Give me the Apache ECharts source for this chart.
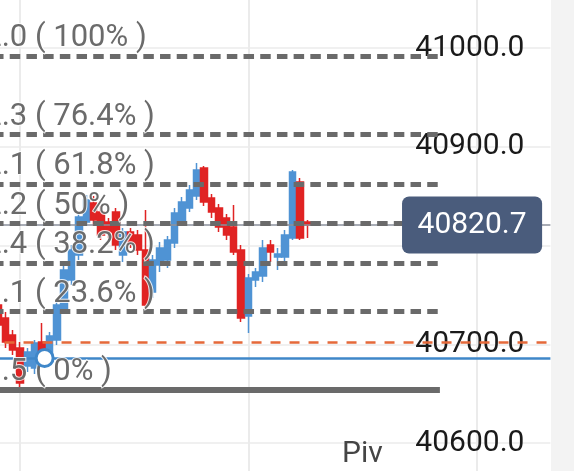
<!DOCTYPE html>
<html><head><meta charset="utf-8">
<script src="https://cdn.jsdelivr.net/npm/echarts@6/dist/echarts.min.js"></script>
<style>html,body{margin:0;padding:0;background:#fff}#c{width:574px;height:471px}</style>
</head><body><div id="c"></div>
<script>
// x categories (bars); only part of the range holds candles
const categoryCount = 88;
const categories = Array.from({length: categoryCount}, (_, i) => 'T' + (i + 1));
const firstCandleIndex = 11;
// candles: [open, close, low, high]
const candles = [
  [40746.8, 40732.7, 40729.6, 40749.9],
  [40739.7, 40719.5, 40714.4, 40744.8],
  [40726.6, 40702.3, 40696.2, 40732.7],
  [40709.4, 40694.2, 40689.1, 40714.4],
  [40696.2, 40660.8, 40653.5, 40702.3],
  [40678.0, 40692.2, 40671.9, 40696.2],
  [40675.9, 40701.3, 40669.9, 40704.3],
  [40702.3, 40692.2, 40687.1, 40721.5],
  [40687.1, 40708.4, 40682.0, 40712.4],
  [40704.3, 40739.7, 40699.2, 40744.8],
  [40734.7, 40775.2, 40730.6, 40783.3],
  [40765.1, 40795.4, 40760.0, 40800.5],
  [40790.4, 40828.9, 40785.3, 40833.9],
  [40823.8, 40846.1, 40819.7, 40851.1],
  [40843.0, 40825.8, 40819.7, 40850.1],
  [40833.9, 40810.6, 40805.6, 40840.0],
  [40823.8, 40813.7, 40807.6, 40827.8],
  [40833.9, 40800.5, 40795.4, 40838.0],
  [40790.4, 40813.7, 40783.3, 40817.7],
  [40813.7, 40802.5, 40797.5, 40817.7],
  [40810.6, 40795.4, 40790.4, 40815.7],
  [40795.4, 40739.7, 40732.7, 40835.9],
  [40752.9, 40785.3, 40746.8, 40790.4],
  [40780.3, 40797.5, 40773.2, 40803.5],
  [40785.3, 40805.6, 40777.2, 40809.6],
  [40802.5, 40832.9, 40797.5, 40838.0],
  [40823.8, 40844.1, 40819.7, 40849.1],
  [40838.0, 40856.2, 40833.9, 40861.3],
  [40850.1, 40876.5, 40846.1, 40883.5],
  [40878.5, 40844.1, 40840.0, 40880.5],
  [40848.1, 40833.9, 40827.8, 40852.2],
  [40838.0, 40818.7, 40813.7, 40842.0],
  [40827.8, 40810.6, 40805.6, 40831.9],
  [40818.7, 40793.4, 40790.4, 40841.0],
  [40795.4, 40726.6, 40722.5, 40800.5],
  [40728.6, 40767.1, 40711.4, 40771.1],
  [40765.1, 40773.2, 40758.0, 40777.2],
  [40769.1, 40797.5, 40763.0, 40805.6],
  [40800.5, 40793.4, 40783.3, 40805.6],
  [40788.4, 40791.4, 40775.2, 40797.5],
  [40788.4, 40810.6, 40783.3, 40815.7],
  [40807.6, 40874.4, 40805.6, 40876.5],
  [40864.3, 40807.6, 40805.6, 40868.4],
  [40823.8, 40820.7, 40807.6, 40825.8]
];
const lastPrice = 40820.7;
// Fibonacci retracement levels
const fibPrices = [40992.0, 40912.3, 40862.1, 40822.2, 40782.4, 40733.1, 40653.5];
const fibPercents = ['100%', '76.4%', '61.8%', '50%', '38.2%', '23.6%', '0%'];
const fibEndIndex = 72;
// other horizontal lines
const alertPrice = 40701.8;
const pivotPrice = 40686.1;
const pivotMarkIndex = 18;
const priceBoxIndex = 76;
const pivotText = 'Piv';
// y axis ticks
const yMin = 40500, yMax = 41100, yInterval = 100;

const FONT = 'Roboto';
const candleData = categories.map(() => ['-', '-', '-', '-']);
candles.forEach((c, i) => { candleData[firstCandleIndex + i] = c; });

const fibLines = fibPrices.map((p, i) => {
  const isBase = i === fibPrices.length - 1;
  return [
    {
      coord: [categories[0], p],
      lineStyle: isBase
        ? {color: '#6a6a6a', width: 6, type: 'solid'}
        : {color: '#6a6a6a', width: 5, type: [10.5, 6.2], cap: 'butt'},
      label: {
        show: true,
        position: 'insideStartTop',
        distance: [5, 2],
        formatter: p.toFixed(1) + ' ( ' + fibPercents[i] + ' )',
        color: '#6b6b6b',
        fontSize: 31,
        fontFamily: FONT,
        textBorderColor: 'rgba(255,255,255,0.85)',
        textBorderWidth: 2
      }
    },
    {coord: [categories[fibEndIndex], p]}
  ];
});

const chart = echarts.init(document.getElementById('c'), null, {renderer: 'canvas'});
chart.setOption({
  animation: false,
  backgroundColor: '#ffffff',
  grid: {left: -90.47, right: 23.6, top: -50.75, bottom: -70.75, containLabel: false, outerBoundsMode: 'none'},
  xAxis: {
    type: 'category',
    data: categories,
    boundaryGap: false,
    axisLine: {show: false}, axisTick: {show: false}, axisLabel: {show: false},
    splitLine: {show: true, interval: (i) => (i - 15) % 31 === 0, lineStyle: {color: '#ebebeb', width: 2}}
  },
  yAxis: {
    type: 'value',
    position: 'right',
    min: yMin, max: yMax, interval: yInterval,
    axisLine: {show: false}, axisTick: {show: false},
    axisLabel: {inside: true, margin: 26, formatter: (v) => v.toFixed(1), fontSize: 30, color: '#1a1a1a', fontFamily: FONT},
    splitLine: {show: true, lineStyle: {color: '#ebebeb', width: 1.5}}
  },
  graphic: [
    {type: 'rect', right: 0, top: 0, z: -10, shape: {width: 23, height: 471}, style: {fill: '#f3f3f3'}},
    {type: 'text', left: 342, top: 439, z: 10, style: {text: pivotText, fontSize: 30, fontFamily: FONT, fill: '#454545'}}
  ],
  series: [{
    type: 'candlestick',
    data: candleData,
    barWidth: 7,
    itemStyle: {color: '#4f93d4', color0: '#e02323', borderColor: '#4f93d4', borderColor0: '#e02323', borderWidth: 1.5},
    markLine: {
      silent: true,
      symbol: ['none', 'none'],
      animation: false,
      data: [
        {yAxis: lastPrice, lineStyle: {color: '#8b919c', width: 1.5, type: 'solid'}, label: {show: false}},
        {yAxis: alertPrice, lineStyle: {color: '#e5693a', width: 2.5, type: [10, 9]}, label: {show: false}},
        {yAxis: pivotPrice, lineStyle: {color: '#3f87c9', width: 2.5, type: 'solid'}, label: {show: false}}
      ].concat(fibLines)
    },
    markPoint: {
      silent: true,
      animation: false,
      z: 8,
      data: [
        {
          coord: [categories[pivotMarkIndex], pivotPrice], symbol: 'circle', symbolSize: 17, symbolOffset: [2.5, 0],
          itemStyle: {color: '#ffffff', borderColor: '#3f87c9', borderWidth: 3}, label: {show: false}
        },
        {
          coord: [categories[priceBoxIndex], lastPrice], symbol: 'circle', symbolSize: 1, symbolOffset: [2.7, 0],
          itemStyle: {color: 'rgba(0,0,0,0)'},
          label: {
            show: true, position: 'inside', formatter: lastPrice.toFixed(1), color: '#ffffff', fontSize: 30, fontFamily: FONT,
            backgroundColor: '#4a5c7c', borderRadius: 7, padding: [14, 15.5, 13, 15.5]
          }
        }
      ]
    }
  }]
});
</script>
</body></html>
